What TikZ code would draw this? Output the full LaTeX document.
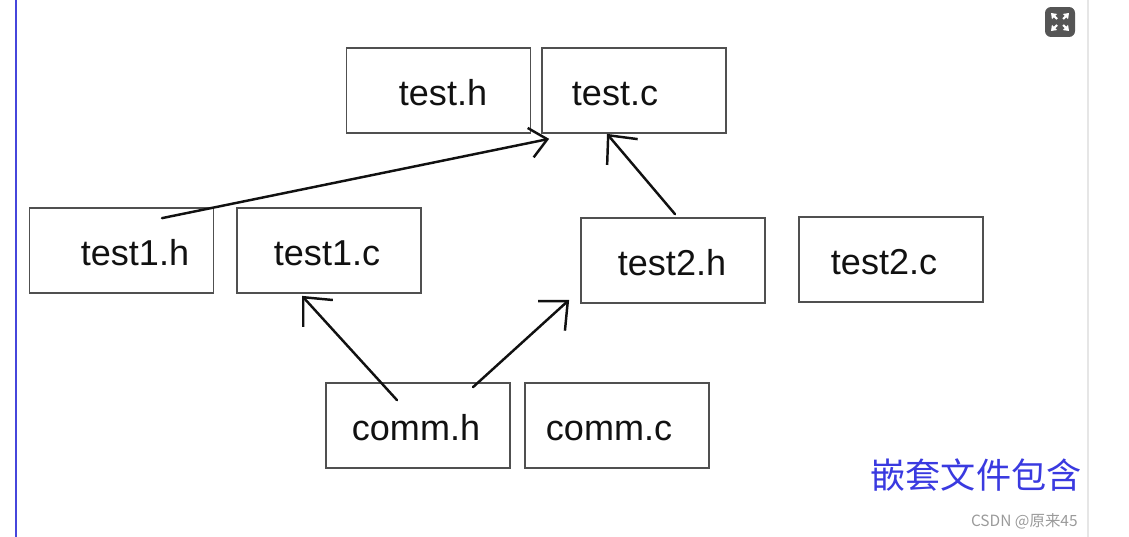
\documentclass[tikz,border=0pt]{standalone}
\usepackage{fontspec}
\setmainfont{Liberation Sans}
\newfontfamily\cjk{Noto Sans CJK SC}
\usepackage{tikz}
\usetikzlibrary{arrows.meta, calc}
\definecolor{boxgray}{HTML}{505050}
\definecolor{inkblack}{HTML}{111111}
\definecolor{titleblue}{HTML}{3A3AE0}
\definecolor{markgray}{HTML}{9A9A9A}
\definecolor{edgeblue}{HTML}{4646DC}
\definecolor{edgegray}{HTML}{E6E6E6}
\definecolor{iconbg}{HTML}{555555}

\tikzset{
    filebox/.style={draw=boxgray, line width=1pt, minimum width=3.68cm, minimum height=1.7cm, inner sep=0pt},
    fname/.style={font=\fontsize{20.5}{24}\selectfont, text=inkblack, inner sep=0pt,
        text height=15pt, text depth=0pt},
    incl/.style={draw=inkblack, line width=1.4pt, line cap=round,
        -{Straight Barb[length=0.44cm, width=0.8cm]}}
}

\begin{document}
\begin{tikzpicture}[x=0.02cm, y=-0.02cm]
        \useasboundingbox (0,0) rectangle (1129,537);

        % page edges
        \draw[edgeblue, line width=1.1pt] (16,0) -- (16,537);
        \draw[edgegray, line width=1.2pt] (1088,0) -- (1088,537);

        % expand button
        \node[fill=iconbg, rounded corners=0.12cm, minimum size=0.6cm, inner sep=0pt] (zoombtn) at (1060,22) {};
        \foreach \dx/\dy in {1/1, 1/-1, -1/1, -1/-1}
            \draw[white, line width=1.2pt, -{Triangle[length=0.1cm, width=0.14cm]}]
                ($(zoombtn)+(3*\dx,3*\dy)$) -- ($(zoombtn)+(9*\dx,9*\dy)$);

        % top row
        \node[filebox, label={[fname, xshift=0.09cm, yshift=-0.04cm]center:test.h}] (testh) at (438.5,90.5) {};
        \node[filebox, label={[fname, xshift=-0.38cm, yshift=-0.04cm]center:test.c}] (testc) at (634,90.5) {};

        % middle row
        \node[filebox, label={[fname, xshift=0.27cm, yshift=-0.04cm]center:test1.h}] (test1h) at (121.5,250.5) {};
        \node[filebox, label={[fname, xshift=-0.04cm, yshift=-0.04cm]center:test1.c}] (test1c) at (329,250.5) {};
        \node[filebox, label={[fname, xshift=-0.02cm, yshift=-0.04cm]center:test2.h}] (test2h) at (673,260.5) {};
        \node[filebox, label={[fname, xshift=-0.14cm, yshift=-0.04cm]center:test2.c}] (test2c) at (891,259.5) {};

        % bottom row
        \node[filebox, label={[fname, xshift=-0.04cm, yshift=-0.04cm]center:comm.h}] (commh) at (418,425.5) {};
        \node[filebox, label={[fname, xshift=-0.16cm, yshift=-0.04cm]center:comm.c}] (commc) at (617,425.5) {};

        % includes
        \draw[incl, -{Straight Barb[length=0.34cm, width=0.6cm]}] ($(test1h.north)+(40.5,11)$) -- ($(testc.south west)+(8,5)$);
        \draw[incl] ($(test2h.north)+(2,-3)$) -- ($(testc.south)+(-27,0)$);
        \draw[incl] ($(commh.north)+(-21,18)$) -- ($(test1c.south)+(-27,2)$);
        \draw[incl] ($(commh.north)+(55,5)$) -- ($(test2h.south west)+(-11,-4)$);

        % caption
        \node[font=\cjk\fontsize{20}{24}\selectfont, text=titleblue, inner sep=0pt] (title) at (976,475) {嵌套文件包含};
        \node[font=\cjk\fontsize{8.8}{10}\selectfont, text=markgray, anchor=east, inner sep=0pt] (mark) at (1078,521) {CSDN @原来45};
\end{tikzpicture}
\end{document}
